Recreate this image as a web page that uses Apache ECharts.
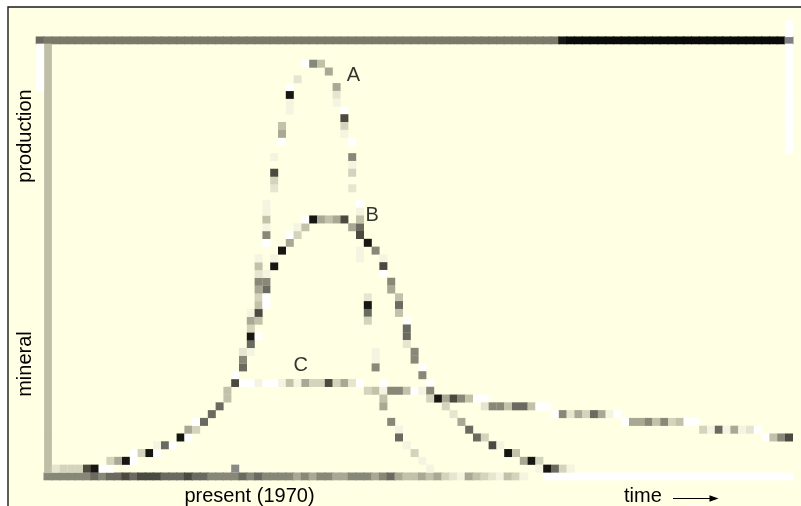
<!DOCTYPE html>
<html>
<head>
<meta charset="utf-8">
<script src="https://cdn.jsdelivr.net/npm/echarts@6/dist/echarts.min.js"></script>
<style>
  html, body { margin: 0; padding: 0; background: #ffffff; }
  #chart { width: 801px; height: 506px; }
</style>
</head>
<body>
<div id="chart"></div>
<script>
// ---- DATA: [time index, production level] ----
// shared early growth (all three curves)
const risePoints = [
  [2,1],[3,1],[4,1],[5,1],[6,1],[7,1],[8,1],[9,1],
  [9,2],[10,2],[11,2],[12,2],
  [12,3],[13,3],[14,3],[15,3],
  [15,4],[16,4],[17,4],
  [18,5],[19,5],
  [19,6],[20,6],
  [20,7],[21,7],
  [22,8],[23,9],[24,10],[24,11],[25,12]
];
// curve A (tall, short-lived peak)
const curveA = [
  [25,13],[26,14],[26,15],[26,16],[27,16],[27,17],[27,18],[28,18],[27,19],[27,20],
  [28,20],[27,21],[28,21],[28,22],[29,22],[28,23],[29,23],[28,24],[28,25],[28,26],
  [28,27],[28,28],[29,30],[29,31],[29,32],[29,33],[29,34],[29,35],[30,37],[30,38],
  [30,39],[30,41],[31,43],[31,44],[31,45],[32,47],[32,48],[32,49],[32,50],[33,51],
  [34,53],[35,53],[36,53],[37,52],[38,50],[38,49],[38,48],[39,47],[39,46],[39,45],
  [39,44],[40,43],[40,41],[40,40],[40,39],[40,37],[41,35],[41,34],[41,33],[41,29],
  [41,28],[42,23],[42,22],[42,21],[42,20],[43,16],[43,15],[43,14],[44,12],[44,10],
  [44,9],[45,7],[46,6],[46,5],[47,4],[48,3],[49,2],[50,1]
];
// curve B (medium peak)
const curveB = [
  [29,24],[29,25],[29,26],[30,27],[30,28],[31,29],[32,30],[32,31],[33,31],[33,32],
  [34,32],[34,33],[35,33],[36,33],[37,33],[38,33],[39,33],[40,32],[41,32],[41,31],
  [42,30],[43,29],[44,28],[44,27],[44,26],[45,25],[45,24],[46,23],[46,22],[46,21],
  [47,20],[47,19],[47,18],[47,17],[48,16],[48,15],[49,14],[49,13],[50,12],[50,11],
  [50,10],[52,9],[53,8],[54,7],[55,6],[56,5],[57,5],[58,4],[59,4],[60,3],
  [61,3],[62,2],[63,2],[64,2],[64,1],[65,1],[66,1],[67,1],[68,1]
];
// curve C (plateau, long tail)
const curveC = [
  [26,12],[27,12],[28,12],[29,12],[30,12],[31,12],[32,12],[33,12],[34,12],[35,12],
  [36,12],[37,12],[38,12],[39,12],[40,12],[41,12],
  [42,11],[43,11],[44,11],[45,11],[46,11],[47,11],[48,11],[49,11],
  [51,10],[52,10],[53,10],[54,10],[55,10],[56,10],[57,10],
  [57,9],[58,9],[59,9],[60,9],[61,9],[62,9],[63,9],[64,9],[65,9],
  [66,8],[67,8],[68,8],[69,8],[70,8],[71,8],[72,8],[73,8],[74,8],
  [75,7],[76,7],[77,7],[78,7],[79,7],[80,7],[81,7],[82,7],[83,7],[84,7],
  [85,6],[86,6],[87,6],[88,6],[89,6],[90,6],[91,6],[92,6],
  [93,5],[94,5],[95,5],[96,5]
];
const presentTime = 25;          // "present (1970)" tick on the time axis
const curveLabels = [ ['A', 40.15, 51.45], ['B', 42.55, 33.5], ['C', 33.4, 14.2] ];

// ---- STYLE ----
const palette = {
  '0':'#ffffff','1':'#f4f4e0','2':'#e6e6d0','3':'#d4d4bc','4':'#c2c2aa',
  '5':'#a8a894','6':'#888878','7':'#6a6a60','8':'#4a4a40','9':'#161612',
  'g':'#7a7a6a','k':'#0a0a08','m':'#808080','L':'#bfbfa8','p':'#8a8a8a'
};
const shadeRise = '233389003590039017090530777448';
const shadeA = '0762179035' + '4184030562' + '4106141123' + '8105411902' + '0645521083' +
               '1061320141' + '1297311604' + '56171311';
const shadeB = '7619195031' + '4095458578' + '9618065474' + '0772660606' + '3325773819' + '459319731';
const shadeC = '0010014153383520' + '34166401' + '9586400' + '266477400' + '062537510' +
               '0556463400' + '31715120' + '0468';
const shadeTop = '7' + 'g'.repeat(66) + '9' + 'k'.repeat(28) + 'm';
const shadeBottom = '666666767787888777877666' + '676766665656655666567544' +
                    '54532154321431..' + '0'.repeat(32);

const X_MIN = -0.5, X_MAX = 96.5, Y_MIN = -0.5, Y_MAX = 58.5;
const HBAR = [9, 7.8], VBAR = [7.8, 9];

function cells(points, shades) {
  const out = [];
  points.forEach((p, i) => {
    const s = shades[i] || '5';
    if (s === '.') return;
    out.push({ value: p, itemStyle: { color: palette[s], opacity: 1 } });
  });
  return out;
}
function cell(c, v, color, size) {
  const d = { value: [c, v], itemStyle: { color, opacity: 1 } };
  if (size) d.symbolSize = size;
  return d;
}

// frame cells (axes of the original drawing)
const frame = [];
for (let c = 0; c <= 96; c++) frame.push(cell(c, 56, palette[shadeTop[c]], HBAR));
for (let c = 1; c <= 96; c++) {
  const s = shadeBottom[c - 1];
  if (s !== '.') frame.push(cell(c, 0, palette[s], HBAR));
}
for (let v = 1; v <= 55; v++) frame.push(cell(1, v, palette['L'], VBAR));
for (let v = 50; v <= 55; v++) frame.push(cell(0, v, '#ffffff', VBAR));
for (let v = 42; v <= 58; v++) if (v !== 56) frame.push(cell(96, v, '#ffffff', VBAR));
frame.push(cell(presentTime, 1, palette['p']));

const cellSeries = (name, data, z) => ({
  name, type: 'scatter', data, symbol: 'rect', symbolSize: [8, 8], z,
  itemStyle: { opacity: 1 },
  silent: true, animation: false, emphasis: { disabled: true }
});

const chart = echarts.init(document.getElementById('chart'), null, { renderer: 'canvas' });
const font = '"Liberation Sans", Arial, sans-serif';

chart.setOption({
  backgroundColor: '#ffffff',
  animation: false,
  grid: { left: 36.3, right: 8.1, top: 20.9, bottom: 25.7 },
  xAxis: { type: 'value', min: X_MIN, max: X_MAX, show: false },
  yAxis: { type: 'value', min: Y_MIN, max: Y_MAX, show: false },
  graphic: [
    { type: 'rect', z: -10, silent: true,
      shape: { x: 8, y: 7, width: 820, height: 520 },
      style: { fill: '#ffffe4', stroke: '#1a1a1a', lineWidth: 1.4 } },
    { type: 'text', x: 25.7, y: 136, rotation: Math.PI / 2, silent: true,
      style: { text: 'production', fontSize: 20, fontFamily: font, fill: '#000',
               align: 'center', verticalAlign: 'middle' } },
    { type: 'text', x: 25.7, y: 364, rotation: Math.PI / 2, silent: true,
      style: { text: 'mineral', fontSize: 20, fontFamily: font, fill: '#000',
               align: 'center', verticalAlign: 'middle' } },
    { type: 'text', x: 249.5, y: 496, silent: true,
      style: { text: 'present (1970)', fontSize: 20, fontFamily: font, fill: '#000',
               align: 'center', verticalAlign: 'middle' } },
    { type: 'text', x: 624, y: 496, silent: true,
      style: { text: 'time', fontSize: 20, fontFamily: font, fill: '#000',
               align: 'left', verticalAlign: 'middle' } },
    { type: 'line', silent: true,
      shape: { x1: 673, y1: 498.5, x2: 712, y2: 498.5 },
      style: { stroke: '#000', lineWidth: 1.2 } },
    { type: 'polygon', silent: true,
      shape: { points: [[709.5, 495.3], [718.5, 498.5], [709.5, 501.7]] },
      style: { fill: '#000' } }
  ],
  series: [
    cellSeries('frame', frame, 2),
    cellSeries('rise', cells(risePoints, shadeRise), 3),
    cellSeries('C', cells(curveC, shadeC), 3),
    cellSeries('B', cells(curveB, shadeB), 4),
    cellSeries('A', cells(curveA, shadeA), 5),
    {
      name: 'labels', type: 'scatter', symbolSize: 0, silent: true, animation: false, z: 6,
      data: curveLabels.map(l => ({ value: [l[1], l[2]], name: l[0] })),
      label: { show: true, position: 'inside', formatter: p => p.name,
               fontSize: 20, fontFamily: font, color: '#000' }
    }
  ]
});
</script>
</body>
</html>
